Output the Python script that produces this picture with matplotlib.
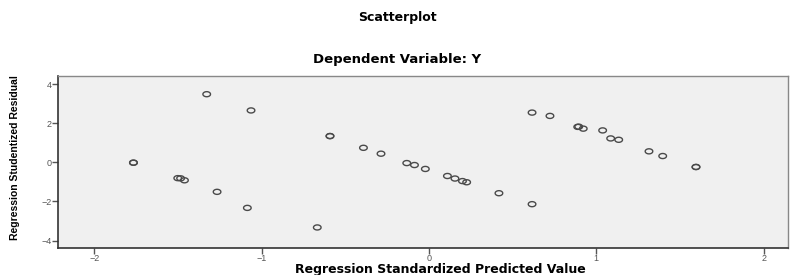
import numpy as np
import matplotlib
matplotlib.use("Agg")
import matplotlib.pyplot as plt
from matplotlib.path import Path
from matplotlib import font_manager

# Data (predicted value, studentized residual)
pred = [-1.329, -1.064, -1.767, -1.767, -1.502, -1.485, -1.462, -1.267, -1.086,
        -0.668, -0.592, -0.592, -0.392, -0.287, -0.133, -0.087, -0.022,
        0.110, 0.155, 0.200, 0.225, 0.418, 0.616, 0.616, 0.723,
        0.889, 0.895, 0.922, 1.038, 1.086, 1.134, 1.315, 1.397, 1.596, 1.596]
resid = [3.48, 2.65, -0.02, -0.02, -0.81, -0.82, -0.92, -1.51, -2.33,
         -3.33, 1.34, 1.34, 0.74, 0.44, -0.04, -0.14, -0.34,
         -0.70, -0.83, -0.96, -1.02, -1.58, -2.14, 2.54, 2.37,
         1.81, 1.82, 1.72, 1.63, 1.22, 1.15, 0.56, 0.32, -0.24, -0.24]
xticks = [-2, -1, 0, 1, 2]
yticks = [-4, -2, 0, 2, 4]

plt.rcParams['font.family'] = ['Liberation Sans', 'DejaVu Sans']

names = {f.name for f in font_manager.fontManager.ttflist}
narrow = 'Liberation Sans Narrow' if 'Liberation Sans Narrow' in names else 'Liberation Sans'

fig = plt.figure(figsize=(7.9, 2.75), dpi=100)
ax = fig.add_axes([58/790, 1-248/275, (788-58)/790, (248-76)/275])
ax.set_facecolor('#f0f0f0')

t = np.linspace(0, 2*np.pi, 60)
ell = Path(np.column_stack([1.5*np.cos(t), np.sin(t)]))
ax.scatter(pred, resid, marker=ell, s=30, facecolors='none',
           edgecolors='#4a4a4a', linewidths=1.0, zorder=3)

ax.set_xlim(-2.218, 2.146)
ax.set_ylim(-4.38, 4.41)
ax.set_xticks(xticks)
ax.set_yticks(yticks)
ax.tick_params(axis='both', direction='out', length=4, width=1, color='#555555',
               labelsize=6.5, labelcolor='#555555', pad=0.5)

for s in ['left', 'bottom']:
    ax.spines[s].set_color('#333333')
    ax.spines[s].set_linewidth(1.2)
for s in ['top', 'right']:
    ax.spines[s].set_color('#888888')
    ax.spines[s].set_linewidth(1.0)

fig.text(397/790, 1-18/275, 'Scatterplot', ha='center', va='center',
         fontsize=9, fontweight='bold', family='DejaVu Sans')
fig.text(397/790, 1-60/275, 'Dependent Variable: Y', ha='center', va='center',
         fontsize=9.5, fontweight='bold', family='DejaVu Sans')
fig.text(440/790, 1-273/275, 'Regression Standardized Predicted Value',
         ha='center', va='baseline', fontsize=9, fontweight='bold',
         family='DejaVu Sans')
fig.text(15/790, 1-158/275, 'Regression Studentized Residual', rotation=90,
         ha='center', va='center', fontsize=7.5, fontweight='bold',
         family=narrow)

fig.savefig('out.png', dpi=100)
